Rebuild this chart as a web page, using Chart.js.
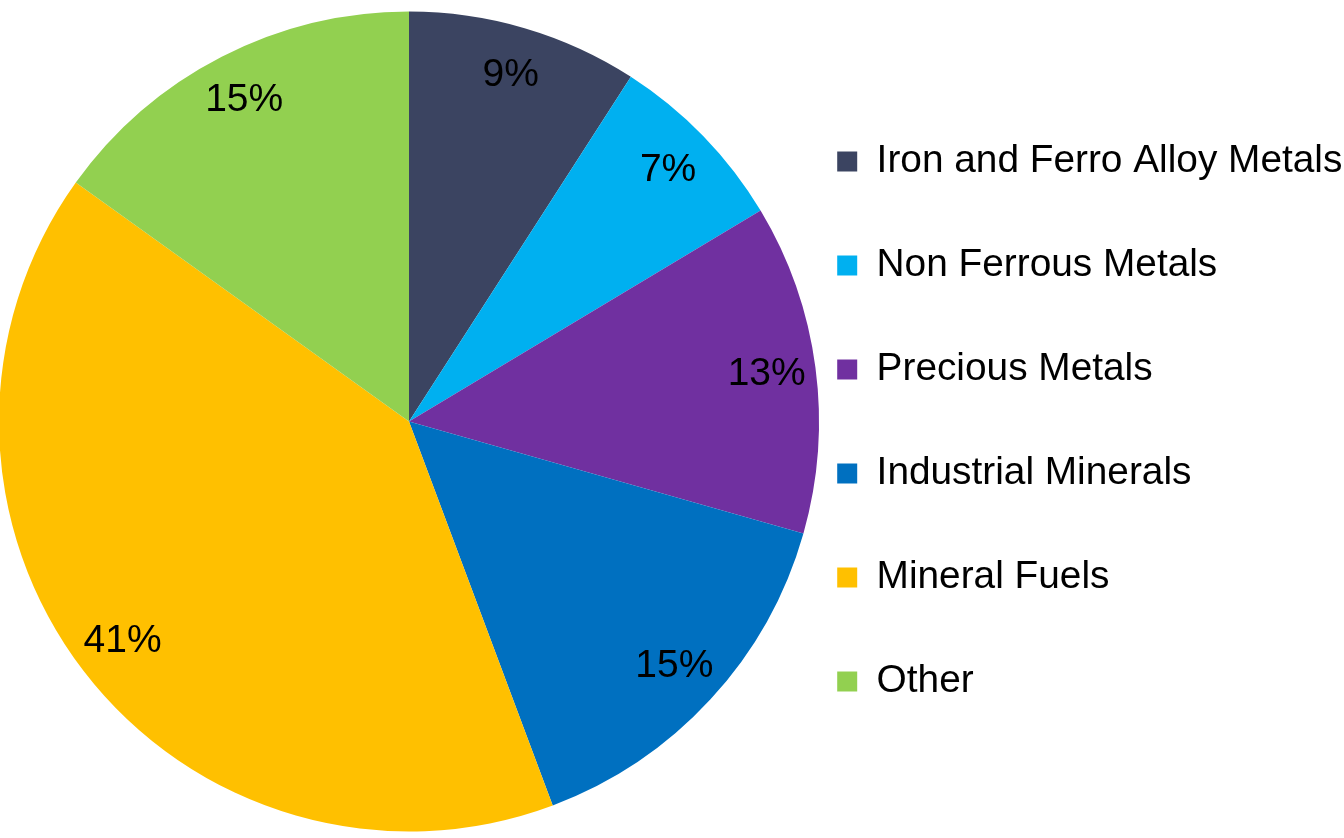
<!DOCTYPE html>
<html>
<head>
<meta charset="utf-8">
<script src="https://cdn.jsdelivr.net/npm/chart.js@4/dist/chart.umd.min.js"></script>
<style>
  html, body { margin: 0; padding: 0; background: #fff; }
  #wrap { position: relative; width: 1344px; height: 838px; }
</style>
</head>
<body>
<div id="wrap"><canvas id="pie"></canvas></div>
<script>
// ── data ─────────────────────────────────────
const categories = [
    'Iron and Ferro Alloy Metals',
    'Non Ferrous Metals',
    'Precious Metals',
    'Industrial Minerals',
    'Mineral Fuels',
    'Other',
];
const shares = [9.1, 7.3, 13.0, 14.9, 40.6, 15.1];
const shareLabels = ['9%', '7%', '13%', '15%', '41%', '15%'];
const sliceColors = ['#3B4461', '#00B0F0', '#7030A0', '#0070C0', '#FFC000', '#92D050'];

const FONT = '"Liberation Sans", Arial, sans-serif';

// percent labels inside the slices, near the outer edge
const sliceLabels = {
    id: 'sliceLabels',
    afterDatasetsDraw(chart) {
        const { ctx } = chart;
        const meta = chart.getDatasetMeta(0);
        ctx.save();
        ctx.font = '39px ' + FONT;
        ctx.fillStyle = '#000';
        ctx.textAlign = 'center';
        ctx.textBaseline = 'middle';
        meta.data.forEach((arc, i) => {
            const p = arc.getProps(['x', 'y', 'startAngle', 'endAngle', 'outerRadius'], true);
            const mid = (p.startAngle + p.endAngle) / 2;
            const d = p.outerRadius * 0.88;
            ctx.fillText(shareLabels[i], p.x + Math.cos(mid) * d, p.y + Math.sin(mid) * d);
        });
        ctx.restore();
    }
};

new Chart(document.getElementById('pie'), {
    type: 'pie',
    data: {
        labels: categories,
        datasets: [{
            data: shares,
            backgroundColor: sliceColors,
            borderWidth: 0,
            radius: 410,
            clip: false,
        }]
    },
    options: {
        responsive: true,
        maintainAspectRatio: false,
        animation: false,
        layout: { padding: { left: 46, right: 0, top: 5, bottom: 0 } },
        plugins: {
            tooltip: { enabled: false },
            legend: {
                position: 'right',
                align: 'center',
                maxWidth: 572,
                labels: {
                    boxWidth: 20,
                    boxHeight: 20,
                    padding: 65.2,
                    color: '#000',
                    font: { size: 38.8, family: FONT },
                }
            }
        }
    },
    plugins: [sliceLabels]
});
</script>
</body>
</html>
